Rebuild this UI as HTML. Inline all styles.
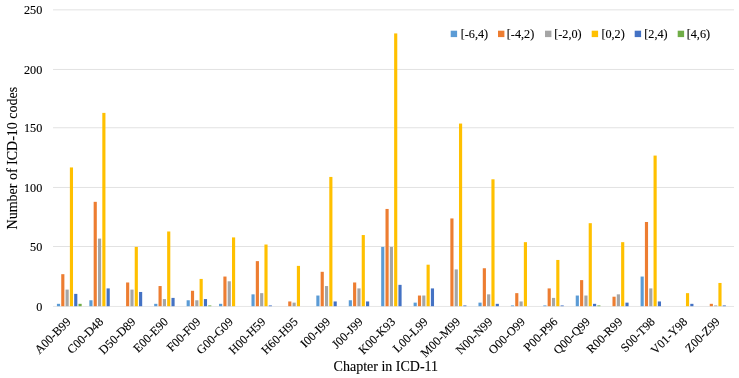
<!DOCTYPE html>
<html><head><meta charset="utf-8"><title>ICD chart</title>
<style>html,body{margin:0;padding:0;background:#fff}svg{display:block}text{font-family:"Liberation Serif",serif;fill:#000;stroke:#000;stroke-width:0.12px}</style></head><body>
<svg width="739" height="378" viewBox="0 0 739 378">
<rect width="739" height="378" fill="#fff"/>
<rect x="53.05" y="9.35" width="681.0" height="1" fill="#E2E2E2"/>
<rect x="53.05" y="68.95" width="681.0" height="1" fill="#E2E2E2"/>
<rect x="53.05" y="127.25" width="681.0" height="1" fill="#E2E2E2"/>
<rect x="53.05" y="186.95" width="681.0" height="1" fill="#E2E2E2"/>
<rect x="53.05" y="246.00" width="681.0" height="1" fill="#E2E2E2"/>
<rect x="53.05" y="305.95" width="681.0" height="0.85" fill="#E2E2E2"/>
<rect x="56.92" y="303.83" width="3.15" height="2.37" fill="#5B9BD5"/>
<rect x="61.24" y="274.18" width="3.15" height="32.02" fill="#ED7D31"/>
<rect x="65.56" y="289.60" width="3.15" height="16.60" fill="#A5A5A5"/>
<rect x="69.87" y="167.44" width="3.15" height="138.76" fill="#FFC000"/>
<rect x="74.19" y="293.87" width="3.15" height="12.33" fill="#4472C4"/>
<rect x="78.51" y="303.83" width="3.15" height="2.37" fill="#70AD47"/>
<rect x="89.35" y="300.27" width="3.15" height="5.93" fill="#5B9BD5"/>
<rect x="93.66" y="201.83" width="3.15" height="104.37" fill="#ED7D31"/>
<rect x="97.98" y="238.60" width="3.15" height="67.60" fill="#A5A5A5"/>
<rect x="102.30" y="112.88" width="3.15" height="193.32" fill="#FFC000"/>
<rect x="106.61" y="288.41" width="3.15" height="17.79" fill="#4472C4"/>
<rect x="126.09" y="282.48" width="3.15" height="23.72" fill="#ED7D31"/>
<rect x="130.41" y="289.60" width="3.15" height="16.60" fill="#A5A5A5"/>
<rect x="134.72" y="246.90" width="3.15" height="59.30" fill="#FFC000"/>
<rect x="139.04" y="291.97" width="3.15" height="14.23" fill="#4472C4"/>
<rect x="154.20" y="303.83" width="3.15" height="2.37" fill="#5B9BD5"/>
<rect x="158.52" y="286.04" width="3.15" height="20.16" fill="#ED7D31"/>
<rect x="162.83" y="299.08" width="3.15" height="7.12" fill="#A5A5A5"/>
<rect x="167.15" y="231.48" width="3.15" height="74.72" fill="#FFC000"/>
<rect x="171.47" y="297.90" width="3.15" height="8.30" fill="#4472C4"/>
<rect x="186.63" y="300.27" width="3.15" height="5.93" fill="#5B9BD5"/>
<rect x="190.94" y="290.78" width="3.15" height="15.42" fill="#ED7D31"/>
<rect x="195.26" y="300.27" width="3.15" height="5.93" fill="#A5A5A5"/>
<rect x="199.58" y="278.92" width="3.15" height="27.28" fill="#FFC000"/>
<rect x="203.89" y="299.08" width="3.15" height="7.12" fill="#4472C4"/>
<rect x="208.21" y="305.43" width="3.15" height="0.77" fill="#70AD47"/>
<rect x="219.05" y="303.83" width="3.15" height="2.37" fill="#5B9BD5"/>
<rect x="223.37" y="276.55" width="3.15" height="29.65" fill="#ED7D31"/>
<rect x="227.69" y="281.29" width="3.15" height="24.91" fill="#A5A5A5"/>
<rect x="232.00" y="237.41" width="3.15" height="68.79" fill="#FFC000"/>
<rect x="251.48" y="294.34" width="3.15" height="11.86" fill="#5B9BD5"/>
<rect x="255.80" y="261.13" width="3.15" height="45.07" fill="#ED7D31"/>
<rect x="260.11" y="293.15" width="3.15" height="13.05" fill="#A5A5A5"/>
<rect x="264.43" y="244.53" width="3.15" height="61.67" fill="#FFC000"/>
<rect x="268.75" y="305.43" width="3.15" height="0.77" fill="#4472C4"/>
<rect x="288.22" y="301.46" width="3.15" height="4.74" fill="#ED7D31"/>
<rect x="292.54" y="302.64" width="3.15" height="3.56" fill="#A5A5A5"/>
<rect x="296.86" y="265.88" width="3.15" height="40.32" fill="#FFC000"/>
<rect x="316.33" y="295.53" width="3.15" height="10.67" fill="#5B9BD5"/>
<rect x="320.65" y="271.81" width="3.15" height="34.39" fill="#ED7D31"/>
<rect x="324.96" y="286.04" width="3.15" height="20.16" fill="#A5A5A5"/>
<rect x="329.28" y="176.93" width="3.15" height="129.27" fill="#FFC000"/>
<rect x="333.60" y="301.46" width="3.15" height="4.74" fill="#4472C4"/>
<rect x="348.76" y="300.27" width="3.15" height="5.93" fill="#5B9BD5"/>
<rect x="353.07" y="282.48" width="3.15" height="23.72" fill="#ED7D31"/>
<rect x="357.39" y="288.41" width="3.15" height="17.79" fill="#A5A5A5"/>
<rect x="361.71" y="235.04" width="3.15" height="71.16" fill="#FFC000"/>
<rect x="366.02" y="301.46" width="3.15" height="4.74" fill="#4472C4"/>
<rect x="381.18" y="246.90" width="3.15" height="59.30" fill="#5B9BD5"/>
<rect x="385.50" y="208.95" width="3.15" height="97.25" fill="#ED7D31"/>
<rect x="389.82" y="246.90" width="3.15" height="59.30" fill="#A5A5A5"/>
<rect x="394.13" y="33.42" width="3.15" height="272.78" fill="#FFC000"/>
<rect x="398.45" y="284.85" width="3.15" height="21.35" fill="#4472C4"/>
<rect x="413.61" y="302.64" width="3.15" height="3.56" fill="#5B9BD5"/>
<rect x="417.93" y="295.53" width="3.15" height="10.67" fill="#ED7D31"/>
<rect x="422.24" y="295.53" width="3.15" height="10.67" fill="#A5A5A5"/>
<rect x="426.56" y="264.69" width="3.15" height="41.51" fill="#FFC000"/>
<rect x="430.88" y="288.41" width="3.15" height="17.79" fill="#4472C4"/>
<rect x="450.35" y="218.44" width="3.15" height="87.76" fill="#ED7D31"/>
<rect x="454.67" y="269.43" width="3.15" height="36.77" fill="#A5A5A5"/>
<rect x="458.99" y="123.56" width="3.15" height="182.64" fill="#FFC000"/>
<rect x="463.30" y="305.43" width="3.15" height="0.77" fill="#4472C4"/>
<rect x="478.46" y="302.64" width="3.15" height="3.56" fill="#5B9BD5"/>
<rect x="482.78" y="268.25" width="3.15" height="37.95" fill="#ED7D31"/>
<rect x="487.10" y="294.34" width="3.15" height="11.86" fill="#A5A5A5"/>
<rect x="491.41" y="179.30" width="3.15" height="126.90" fill="#FFC000"/>
<rect x="495.73" y="303.83" width="3.15" height="2.37" fill="#4472C4"/>
<rect x="510.89" y="305.43" width="3.15" height="0.77" fill="#5B9BD5"/>
<rect x="515.21" y="293.15" width="3.15" height="13.05" fill="#ED7D31"/>
<rect x="519.52" y="301.46" width="3.15" height="4.74" fill="#A5A5A5"/>
<rect x="523.84" y="242.16" width="3.15" height="64.04" fill="#FFC000"/>
<rect x="543.31" y="305.43" width="3.15" height="0.77" fill="#5B9BD5"/>
<rect x="547.63" y="288.41" width="3.15" height="17.79" fill="#ED7D31"/>
<rect x="551.95" y="297.90" width="3.15" height="8.30" fill="#A5A5A5"/>
<rect x="556.26" y="259.95" width="3.15" height="46.25" fill="#FFC000"/>
<rect x="560.58" y="305.43" width="3.15" height="0.77" fill="#4472C4"/>
<rect x="575.74" y="295.53" width="3.15" height="10.67" fill="#5B9BD5"/>
<rect x="580.06" y="280.11" width="3.15" height="26.09" fill="#ED7D31"/>
<rect x="584.37" y="295.53" width="3.15" height="10.67" fill="#A5A5A5"/>
<rect x="588.69" y="223.18" width="3.15" height="83.02" fill="#FFC000"/>
<rect x="593.01" y="303.83" width="3.15" height="2.37" fill="#4472C4"/>
<rect x="597.32" y="305.43" width="3.15" height="0.77" fill="#70AD47"/>
<rect x="612.48" y="296.71" width="3.15" height="9.49" fill="#ED7D31"/>
<rect x="616.80" y="294.34" width="3.15" height="11.86" fill="#A5A5A5"/>
<rect x="621.12" y="242.16" width="3.15" height="64.04" fill="#FFC000"/>
<rect x="625.43" y="302.64" width="3.15" height="3.56" fill="#4472C4"/>
<rect x="640.59" y="276.55" width="3.15" height="29.65" fill="#5B9BD5"/>
<rect x="644.91" y="221.99" width="3.15" height="84.21" fill="#ED7D31"/>
<rect x="649.23" y="288.41" width="3.15" height="17.79" fill="#A5A5A5"/>
<rect x="653.54" y="155.58" width="3.15" height="150.62" fill="#FFC000"/>
<rect x="657.86" y="301.46" width="3.15" height="4.74" fill="#4472C4"/>
<rect x="685.97" y="293.15" width="3.15" height="13.05" fill="#FFC000"/>
<rect x="690.29" y="303.83" width="3.15" height="2.37" fill="#4472C4"/>
<rect x="709.76" y="303.83" width="3.15" height="2.37" fill="#ED7D31"/>
<rect x="714.08" y="305.43" width="3.15" height="0.77" fill="#A5A5A5"/>
<rect x="718.40" y="282.95" width="3.15" height="23.25" fill="#FFC000"/>
<rect x="722.71" y="305.43" width="3.15" height="0.77" fill="#4472C4"/>
<text x="42.3" y="13.5" font-size="12.2" text-anchor="end">250</text>
<text x="42.3" y="73.7" font-size="12.2" text-anchor="end">200</text>
<text x="42.3" y="132.2" font-size="12.2" text-anchor="end">150</text>
<text x="42.3" y="192.1" font-size="12.2" text-anchor="end">100</text>
<text x="42.3" y="251.0" font-size="12.2" text-anchor="end">50</text>
<text x="42.3" y="311.0" font-size="12.2" text-anchor="end">0</text>
<text font-size="12.2" text-anchor="end" transform="translate(71.53,322.50) rotate(-45)">A00-B99</text>
<text font-size="12.2" text-anchor="end" transform="translate(103.98,322.50) rotate(-45)">C00-D48</text>
<text font-size="12.2" text-anchor="end" transform="translate(136.43,322.50) rotate(-45)">D50-D89</text>
<text font-size="12.2" text-anchor="end" transform="translate(168.88,322.50) rotate(-45)">E00-E90</text>
<text font-size="12.2" text-anchor="end" transform="translate(201.33,322.50) rotate(-45)">F00-F09</text>
<text font-size="12.2" text-anchor="end" transform="translate(233.79,322.50) rotate(-45)">G00-G09</text>
<text font-size="12.2" text-anchor="end" transform="translate(266.24,322.50) rotate(-45)">H00-H59</text>
<text font-size="12.2" text-anchor="end" transform="translate(298.69,322.50) rotate(-45)">H60-H95</text>
<text font-size="12.2" text-anchor="end" transform="translate(331.14,322.50) rotate(-45)">I00-I99</text>
<text font-size="12.2" text-anchor="end" transform="translate(363.59,322.50) rotate(-45)">J00-J99</text>
<text font-size="12.2" text-anchor="end" transform="translate(396.05,322.50) rotate(-45)">K00-K93</text>
<text font-size="12.2" text-anchor="end" transform="translate(428.50,322.50) rotate(-45)">L00-L99</text>
<text font-size="12.2" text-anchor="end" transform="translate(460.95,322.50) rotate(-45)">M00-M99</text>
<text font-size="12.2" text-anchor="end" transform="translate(493.40,322.50) rotate(-45)">N00-N99</text>
<text font-size="12.2" text-anchor="end" transform="translate(525.85,322.50) rotate(-45)">O00-O99</text>
<text font-size="12.2" text-anchor="end" transform="translate(558.31,322.50) rotate(-45)">P00-P96</text>
<text font-size="12.2" text-anchor="end" transform="translate(590.76,322.50) rotate(-45)">Q00-Q99</text>
<text font-size="12.2" text-anchor="end" transform="translate(623.21,322.50) rotate(-45)">R00-R99</text>
<text font-size="12.2" text-anchor="end" transform="translate(655.66,322.50) rotate(-45)">S00-T98</text>
<text font-size="12.2" text-anchor="end" transform="translate(688.11,322.50) rotate(-45)">V01-Y98</text>
<text font-size="12.2" text-anchor="end" transform="translate(720.57,322.50) rotate(-45)">Z00-Z99</text>
<text font-size="14" text-anchor="middle" transform="translate(17,158.1) rotate(-90)">Number of ICD-10 codes</text>
<text font-size="14" x="333.6" y="371.2">Chapter in ICD-11</text>
<rect x="450.7" y="30.7" width="6.4" height="6.4" fill="#5B9BD5"/>
<text font-size="12.2" x="460.7" y="38.3">[-6,4)</text>
<rect x="498.0" y="30.7" width="6.4" height="6.4" fill="#ED7D31"/>
<text font-size="12.2" x="506.8" y="38.3">[-4,2)</text>
<rect x="545.0" y="30.7" width="6.4" height="6.4" fill="#A5A5A5"/>
<text font-size="12.2" x="554.2" y="38.3">[-2,0)</text>
<rect x="591.7" y="30.7" width="6.4" height="6.4" fill="#FFC000"/>
<text font-size="12.2" x="601.4" y="38.3">[0,2)</text>
<rect x="634.7" y="30.7" width="6.4" height="6.4" fill="#4472C4"/>
<text font-size="12.2" x="644.3" y="38.3">[2,4)</text>
<rect x="677.7" y="30.7" width="6.4" height="6.4" fill="#70AD47"/>
<text font-size="12.2" x="686.7" y="38.3">[4,6)</text>
</svg></body></html>
